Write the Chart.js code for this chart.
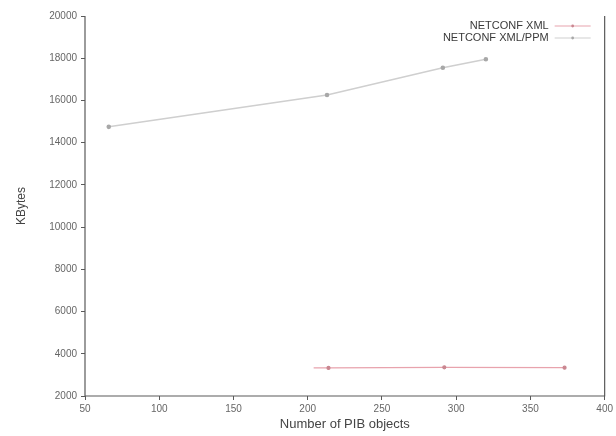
<!DOCTYPE html>
<html>
<head>
<meta charset="utf-8">
<script src="https://cdn.jsdelivr.net/npm/chart.js@4/dist/chart.umd.min.js"></script>
<style>
  html, body { margin: 0; padding: 0; background: #fff; }
  #wrap { width: 616px; height: 436px; position: relative; }
</style>
</head>
<body>
<div id="wrap"><canvas id="c" width="616" height="436"></canvas></div>
<script>
// Memory used by the agent versus number of PIB objects
const xmlObjects = [204, 214, 292, 373];
const xmlKBytes  = [3330, 3330, 3360, 3340];
const ppmObjects = [66, 213, 291, 320];
const ppmKBytes  = [14750, 16260, 17550, 17950];
const seriesNames = ['NETCONF XML', 'NETCONF XML/PPM'];
const xTicks = [50, 100, 150, 200, 250, 300, 350, 400];
const yTicks = [2000, 4000, 6000, 8000, 10000, 12000, 14000, 16000, 18000, 20000];

const toPoints = (xs, ys) => xs.map((x, i) => ({ x: x, y: ys[i] }));

const axisColor = '#5a5a5a';
const tickFont = { family: 'Liberation Sans', size: 10 };

// gnuplot-style key in the top-right corner plus a closed frame
const frameAndKey = {
  id: 'frameAndKey',
  afterDatasetsDraw(chart) {
    const { ctx, chartArea: a } = chart;
    ctx.save();
    ctx.strokeStyle = axisColor;
    ctx.lineWidth = 1.2;
    ctx.beginPath();
    ctx.moveTo(a.left, a.top);
    ctx.lineTo(a.left, a.bottom);
    ctx.lineTo(a.right, a.bottom);
    ctx.lineTo(a.right, a.top);
    ctx.stroke();

    ctx.font = '11px "Liberation Sans"';
    ctx.textAlign = 'right';
    ctx.textBaseline = 'middle';
    const textRight = a.right - 56;
    const rows = [a.top + 10, a.top + 22];
    chart.data.datasets.forEach((ds, i) => {
      const y = rows[i];
      ctx.fillStyle = '#3a3a3a';
      ctx.fillText(ds.label, textRight, y);
      ctx.strokeStyle = ds.borderColor;
      ctx.lineWidth = 1.2;
      ctx.beginPath();
      ctx.moveTo(textRight + 6, y);
      ctx.lineTo(a.right - 14, y);
      ctx.stroke();
      ctx.fillStyle = ds.pointBackgroundColor;
      ctx.beginPath();
      ctx.arc(textRight + 24, y, 1.4, 0, Math.PI * 2);
      ctx.fill();
    });
    ctx.restore();
  }
};

new Chart(document.getElementById('c'), {
  type: 'line',
  data: {
    datasets: [
      {
        label: seriesNames[0],
        data: toPoints(xmlObjects, xmlKBytes),
        borderColor: '#e8a3ad',
        pointBackgroundColor: '#c98690',
        pointBorderColor: '#c98690',
        pointRadius: [0, 1.5, 1.5, 1.5],
        borderWidth: 1.2,
        tension: 0
      },
      {
        label: seriesNames[1],
        data: toPoints(ppmObjects, ppmKBytes),
        borderColor: '#cfcfcf',
        pointBackgroundColor: '#a8a8a8',
        pointBorderColor: '#a8a8a8',
        pointRadius: 1.5,
        borderWidth: 1.6,
        tension: 0
      }
    ]
  },
  options: {
    responsive: false,
    animation: false,
    layout: { padding: { top: 16, right: 9, left: 0, bottom: 0 } },
    plugins: { legend: { display: false }, tooltip: { enabled: false } },
    scales: {
      x: {
        type: 'linear',
        min: 50, max: 400,
        afterBuildTicks: s => { s.ticks = xTicks.map(v => ({ value: v })); },
        afterFit: s => { s.height = 40; },
        border: { display: false },
        grid: { drawOnChartArea: false, tickLength: 4, color: axisColor },
        ticks: { color: '#666', font: tickFont, padding: 3, maxRotation: 0, callback: v => String(v) },
        title: {
          display: true, text: 'Number of PIB objects',
          color: '#444', font: { family: 'Liberation Sans', size: 13 },
          padding: { top: 0, bottom: 4 }
        }
      },
      y: {
        type: 'linear',
        min: 2000, max: 20000,
        afterBuildTicks: s => { s.ticks = yTicks.map(v => ({ value: v })); },
        afterFit: s => { s.width = 85; },
        border: { display: false },
        grid: { drawOnChartArea: false, tickLength: 4, color: axisColor },
        ticks: { color: '#666', font: tickFont, padding: 4, callback: v => String(v) },
        title: {
          display: true, text: 'KBytes',
          color: '#444', font: { family: 'Liberation Sans', size: 12 },
          padding: { top: 14, bottom: 0 }
        }
      }
    }
  },
  plugins: [frameAndKey]
});
</script>
</body>
</html>
